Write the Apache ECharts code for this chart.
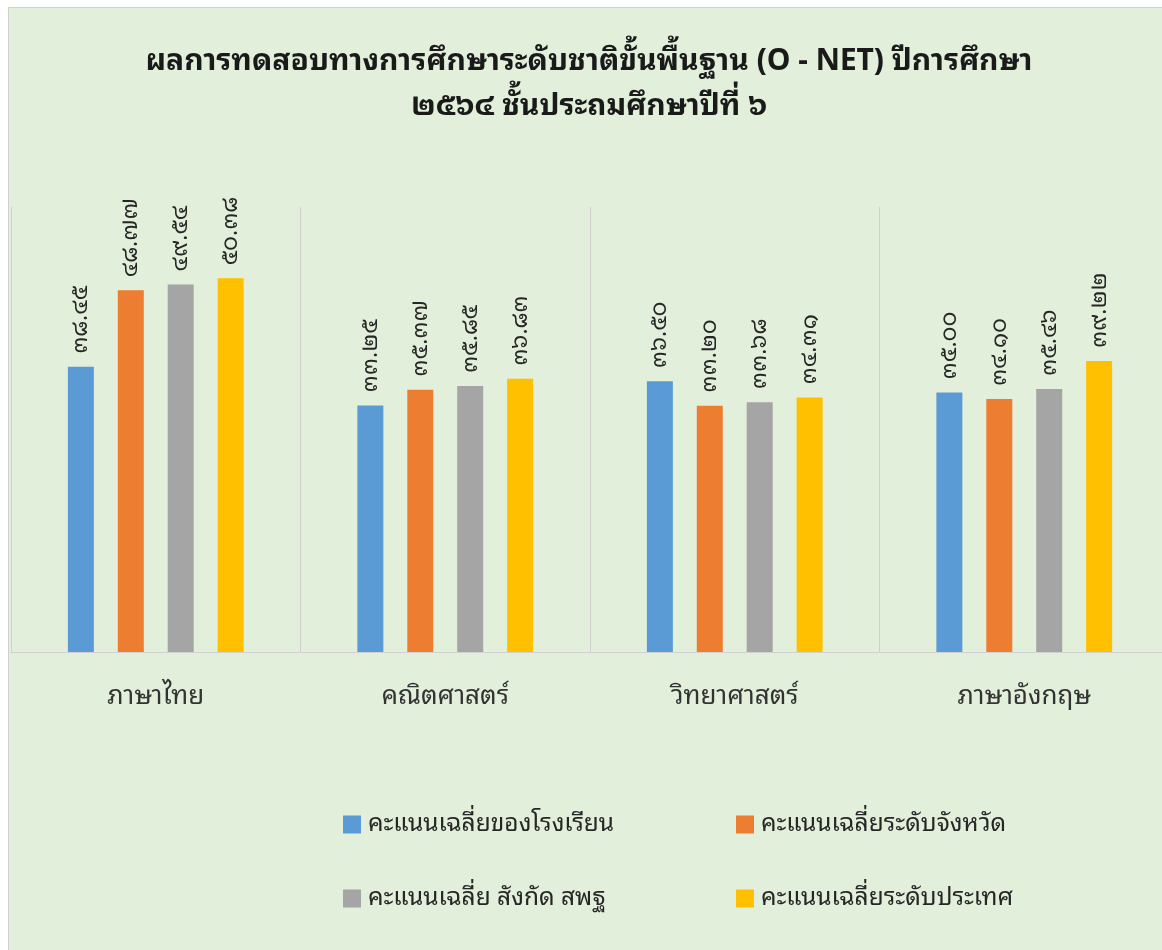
<!DOCTYPE html>
<html>
<head>
<meta charset="utf-8">
<script src="https://cdn.jsdelivr.net/npm/echarts@6/dist/echarts.min.js"></script>
<style>
  html, body { margin: 0; padding: 0; background: #fff; overflow: hidden; }
  #bg { position: absolute; left: 8px; top: 7px; width: 1160px; height: 950px;
        background: #e2efda; border-left: 1px solid #d0d0d0; border-top: 1px solid #d0d0d0; }
  #chart { position: absolute; left: 0; top: 0; width: 1176px; height: 950px; }
</style>
</head>
<body>
<div id="bg"></div>
<div id="chart"></div>
<script>
"use strict";

const SUBJECTS = ["ภาษาไทย", "คณิตศาสตร์", "วิทยาศาสตร์", "ภาษาอังกฤษ"];
const SCHOOL   = [38.45, 33.25, 36.50, 35.00];
const PROVINCE = [48.77, 35.37, 33.20, 34.10];
const AREA     = [49.54, 35.85, 33.68, 35.46];
const NATION   = [50.38, 36.83, 34.31, 39.22];

const NAMES = [
  "คะแนนเฉลี่ยของโรงเรียน",
  "คะแนนเฉลี่ยระดับจังหวัด",
  "คะแนนเฉลี่ย สังกัด สพฐ",
  "คะแนนเฉลี่ยระดับประเทศ",
];
const COLORS = ["#5b9bd5", "#ed7d31", "#a5a5a5", "#ffc000"];

const FONT = "'Noto Sans Thai Looped', 'Noto Serif Thai', 'Noto Sans Thai', 'Noto Sans', 'DejaVu Sans', sans-serif";
const TH_DIGITS = "๐๑๒๓๔๕๖๗๘๙";

// 12.34 → "๑๒.๓๔"
function thaiNum(v) {
  return v.toFixed(2).replace(/\d/g, d => TH_DIGITS[d]);
}

function barSeries(name, data, color) {
  return {
    name, type: "bar", data, barWidth: 26, barGap: "92%",
    itemStyle: { color },
    label: {
      show: true, position: "top", rotate: 90, align: "left", verticalAlign: "middle",
      distance: 13, fontFamily: FONT, fontSize: 23, color: "#262626",
      formatter: p => thaiNum(p.value),
    },
  };
}

// legend 2x2 — one component per item so columns line up
const LEGEND_POS = [[343, 812], [736, 812], [343, 886], [736, 886]];
const legends = NAMES.map((n, i) => ({
  data: [n], left: LEGEND_POS[i][0], top: LEGEND_POS[i][1], padding: 0,
  itemWidth: 18, itemHeight: 18, itemGap: 0, icon: "rect",
  textStyle: { fontFamily: FONT, fontSize: 24.5, color: "#262626", padding: [0, 0, 0, 2] },
}));

const chart = echarts.init(document.getElementById("chart"));
chart.setOption({
  animation: false,
  title: {
    text: "ผลการทดสอบทางการศึกษาระดับชาติขั้นพื้นฐาน (O - NET) ปีการศึกษา\n๒๕๖๔ ชั้นประถมศึกษาปีที่ ๖",
    left: 584, top: 34, textAlign: "center",
    textStyle: { fontFamily: FONT, fontSize: 30, fontWeight: "bold", color: "#1a1a1a", lineHeight: 45 },
  },
  legend: legends,
  grid: { left: 11, width: 1158, top: 207, bottom: 298 },
  xAxis: {
    type: "category", data: SUBJECTS,
    axisLine: { lineStyle: { color: "#d0d0d0" } },
    axisTick: { show: false },
    splitLine: { show: true, lineStyle: { color: "#d0d0d0" } },
    axisLabel: { fontFamily: FONT, fontSize: 26, color: "#333", margin: 32 },
  },
  yAxis: { type: "value", min: 0, max: 60, show: false, splitLine: { show: false } },
  series: [
    barSeries(NAMES[0], SCHOOL, COLORS[0]),
    barSeries(NAMES[1], PROVINCE, COLORS[1]),
    barSeries(NAMES[2], AREA, COLORS[2]),
    barSeries(NAMES[3], NATION, COLORS[3]),
  ],
});
</script>
</body>
</html>
